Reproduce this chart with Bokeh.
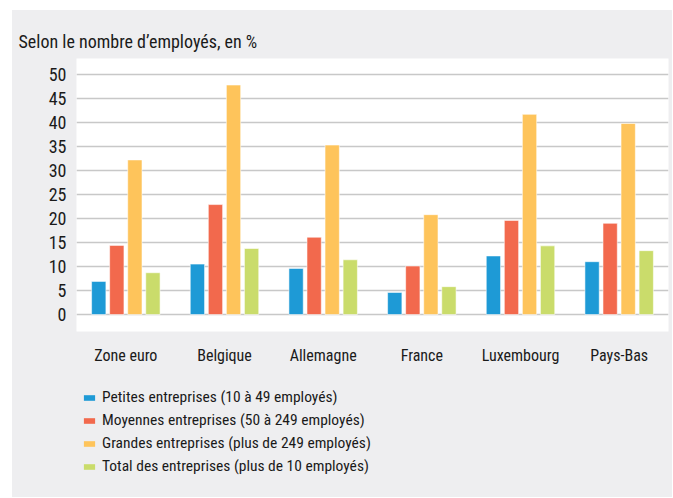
from bokeh.plotting import figure
from bokeh.layouts import column
from bokeh.models import (ColumnDataSource, FactorRange, Range1d, FixedTicker,
                          Legend, LegendItem)
from bokeh.transform import dodge
from bokeh.embed import file_html
from bokeh.resources import INLINE

categories = ["Zone euro", "Belgique", "Allemagne", "France", "Luxembourg", "Pays-Bas"]
petites = [6.9, 10.5, 9.6, 4.6, 12.2, 11.0]
moyennes = [14.4, 22.9, 16.1, 10.1, 19.6, 19.0]
grandes = [32.2, 47.8, 35.3, 20.8, 41.7, 39.8]
total = [8.7, 13.75, 11.4, 5.8, 14.3, 13.3]
series_labels = [
    "Petites entreprises (10 à 49 employés)",
    "Moyennes entreprises (50 à 249 employés)",
    "Grandes entreprises (plus de 249 employés)",
    "Total des entreprises (plus de 10 employés)",
]
y_ticks = [0, 5, 10, 15, 20, 25, 30, 35, 40, 45, 50]
title_text = "Selon le nombre d\u2019employés, en %"

FONT = "Roboto Condensed"
TXT = "#1a1a1a"
BG = "#eeeef0"
colors = ["#1e9ad6", "#f2694d", "#fec45b", "#cadc6b"]

source = ColumnDataSource(dict(cat=categories, petites=petites, moyennes=moyennes,
                               grandes=grandes, total=total))

# ---- chart figure ----
p = figure(x_range=FactorRange(factors=categories, range_padding=0),
           y_range=Range1d(-3.54, 53.33),
           width=660, height=365, output_backend="svg", toolbar_location=None,
           min_border_left=64, min_border_right=4, min_border_top=48, min_border_bottom=44)
p.border_fill_color = BG
p.background_fill_color = "white"
p.outline_line_color = None

p.title.text = title_text
p.title.align = "left"
p.title.vertical_align = "top"
p.title.offset = -58
p.title.text_font = FONT
p.title.text_font_size = "18px"
p.title.text_font_style = "normal"
p.title.text_color = TXT
p.title.standoff = 10

fields = ["petites", "moyennes", "grandes", "total"]
offsets = [-0.2745, -0.0915, 0.0915, 0.2745]
for f, off, c in zip(fields, offsets, colors):
    p.vbar(x=dodge("cat", off, range=p.x_range), top=f, bottom=0, width=0.145,
           source=source, fill_color=c, line_color="white", line_alpha=0.55, line_width=1)

p.xgrid.grid_line_color = None
p.ygrid.grid_line_color = "#c8c8c8"
p.ygrid.grid_line_width = 1.3
p.ygrid.ticker = FixedTicker(ticks=y_ticks)

p.yaxis.ticker = FixedTicker(ticks=y_ticks)
p.yaxis.axis_line_color = None
p.yaxis.major_tick_line_color = None
p.yaxis.minor_tick_line_color = None
p.yaxis.major_label_standoff = 4
p.yaxis.major_label_text_font = FONT
p.yaxis.major_label_text_font_size = "18px"
p.yaxis.major_label_text_color = TXT

p.xaxis.axis_line_color = None
p.xaxis.major_tick_line_color = None
p.xaxis.major_label_standoff = 8
p.xaxis.major_label_text_font = FONT
p.xaxis.major_label_text_font_size = "16px"
p.xaxis.major_label_text_color = TXT

# ---- legend figure (transparent, sits on the column's grey background) ----
q = figure(x_range=Range1d(0, 1), y_range=Range1d(0, 1),
           width=660, height=122, output_backend="svg", toolbar_location=None,
           min_border=0, x_axis_location=None, y_axis_location=None)
q.border_fill_alpha = 0
q.background_fill_alpha = 0
q.outline_line_color = None
q.grid.visible = False
items = []
for lbl, c in zip(series_labels, colors):
    # placeholder glyph (outside the visible range) that only supplies the legend swatch
    r = q.vbar(x=[-10], top=[-10], bottom=[-11], width=0.1, fill_color=c, line_color=None)
    items.append(LegendItem(label=lbl, renderers=[r]))

legend = Legend(items=items, location=(6, 21), orientation="vertical",
                glyph_width=14, glyph_height=7, label_height=20, spacing=3,
                label_standoff=6, padding=0, margin=0,
                label_text_font=FONT, label_text_font_size="15.5px", label_text_color=TXT,
                border_line_color=None, background_fill_alpha=0)
q.add_layout(legend, "center")

layout = column(p, q, spacing=0)
layout.margin = (10, 1, 1, 12)
layout.styles = {"background-color": BG}

open("out.html", "w").write(file_html(layout, INLINE))
